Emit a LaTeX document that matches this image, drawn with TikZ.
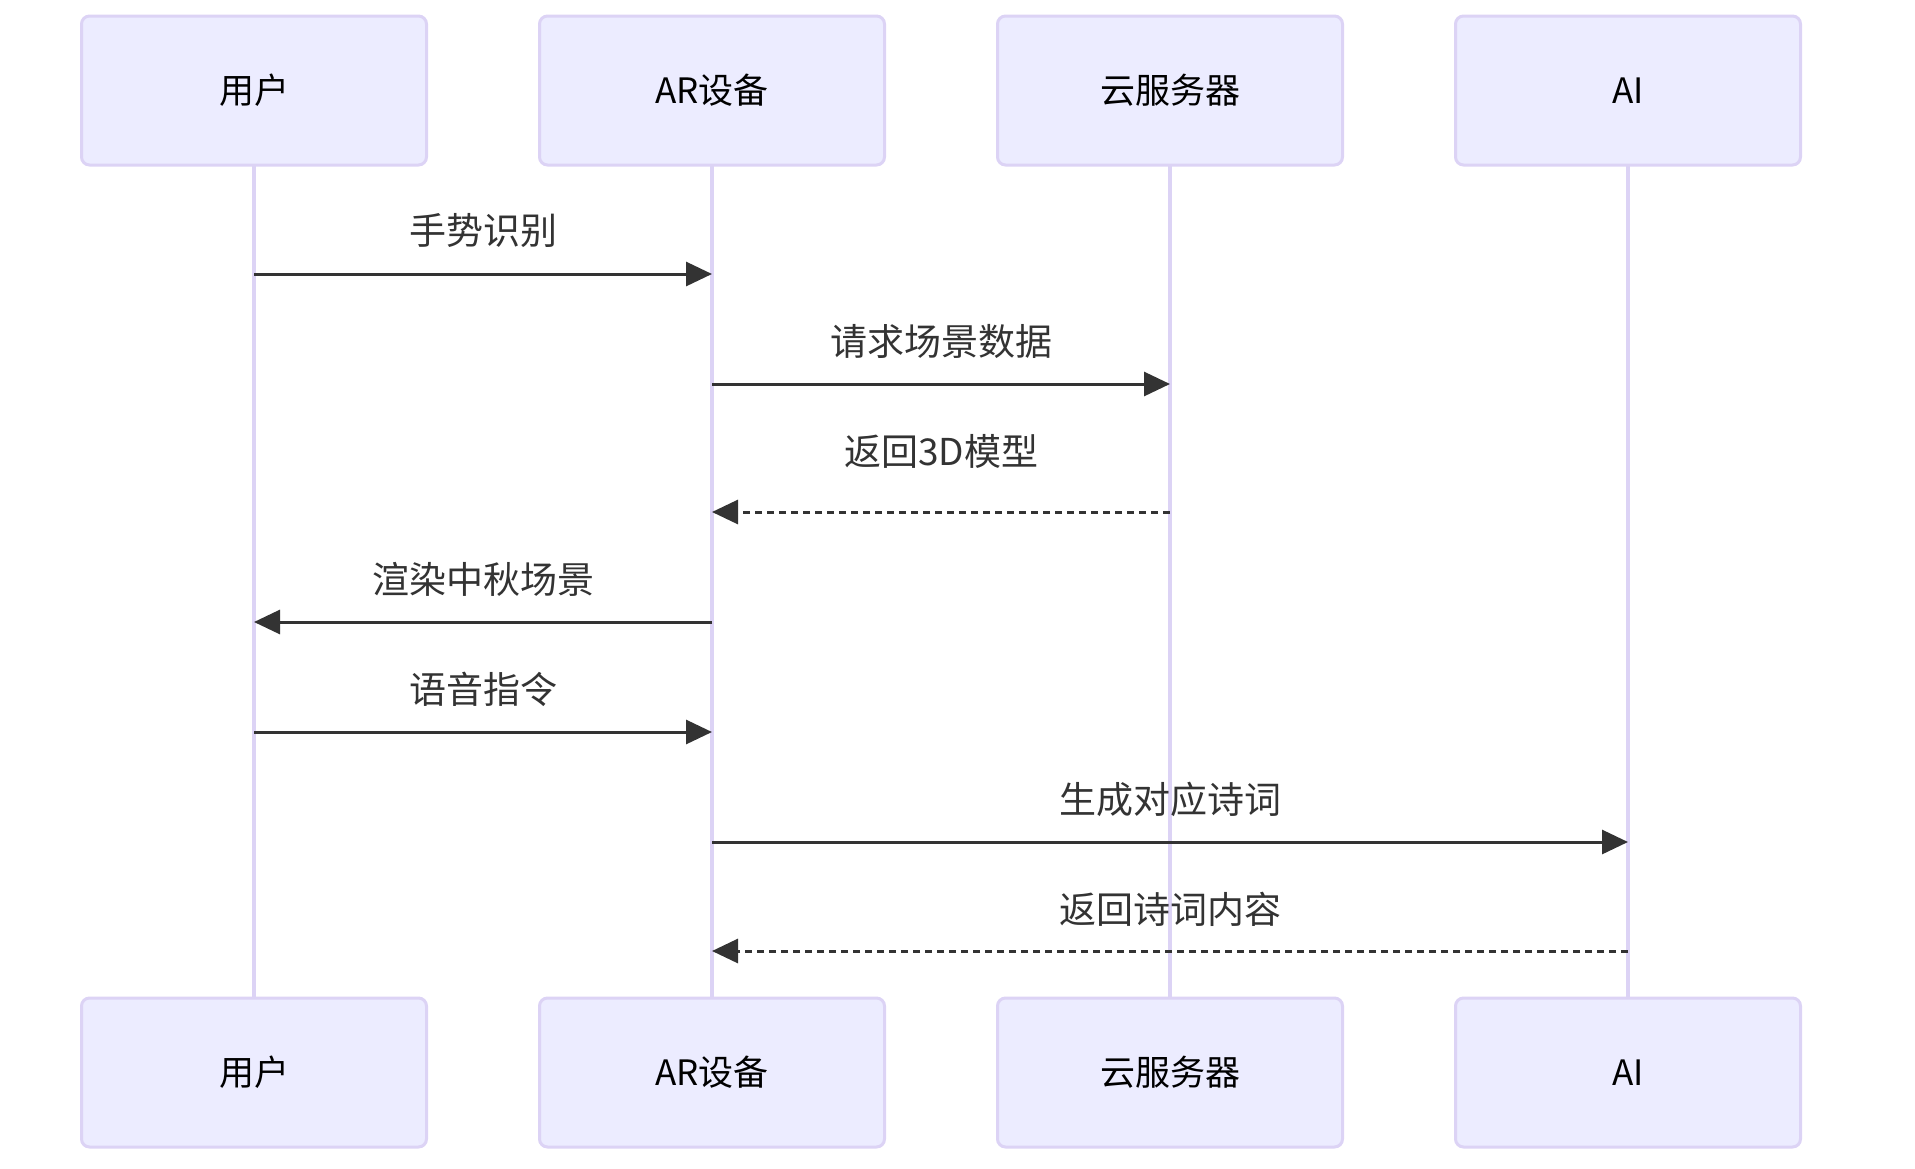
\documentclass[tikz,border=0pt]{standalone}
\usepackage{fontspec}
\setmainfont{Noto Sans CJK SC}
\usetikzlibrary{arrows.meta}
\definecolor{actorfill}{HTML}{ECECFF}
\definecolor{actorline}{HTML}{DCD3F5}
\definecolor{msgline}{HTML}{333333}
\begin{document}
\begin{tikzpicture}[x=1pt,y=-1pt,
    actor/.style={draw=actorline,fill=actorfill,line width=3pt,rounded corners=8pt,
      minimum width=345pt,minimum height=149pt,font=\fontsize{35}{42}\selectfont},
    life/.style={draw=actorline,line width=4pt},
    msg/.style={draw=msgline,line width=3pt,-{Triangle[length=26pt,width=24pt]}},
    reply/.style={msg,dash pattern=on 7pt off 5pt},
    msglabel/.style={text=msgline,font=\fontsize{37}{44}\selectfont}]
  \useasboundingbox (0,0) rectangle (1915,1168);
  % actors and lifelines
  \foreach \name/\txt/\x in {user/用户/254,ar/AR设备/712,cloud/云服务器/1170,ai/AI/1628}{
    \draw[life] (\x,165) -- (\x,998);
    \node[actor] (\name-top) at (\x,90.5) {\txt};
    \node[actor] (\name-bot) at (\x,1072.5) {\txt};
  }
  % messages
  \foreach \from/\to/\y/\up/\lbl/\sty in {
      user/ar/274/43/手势识别/msg,
      ar/cloud/384/43/请求场景数据/msg,
      cloud/ar/512/61/返回3D模型/reply,
      ar/user/622/43/渲染中秋场景/msg,
      user/ar/732/43/语音指令/msg,
      ar/ai/842/43/生成对应诗词/msg,
      ai/ar/951/42/返回诗词内容/reply}{
    \draw[\sty] (\from-top |- 0,\y) -- node[msglabel,midway,yshift=\up pt] {\lbl} (\to-top |- 0,\y);
  }
\end{tikzpicture}
\end{document}
